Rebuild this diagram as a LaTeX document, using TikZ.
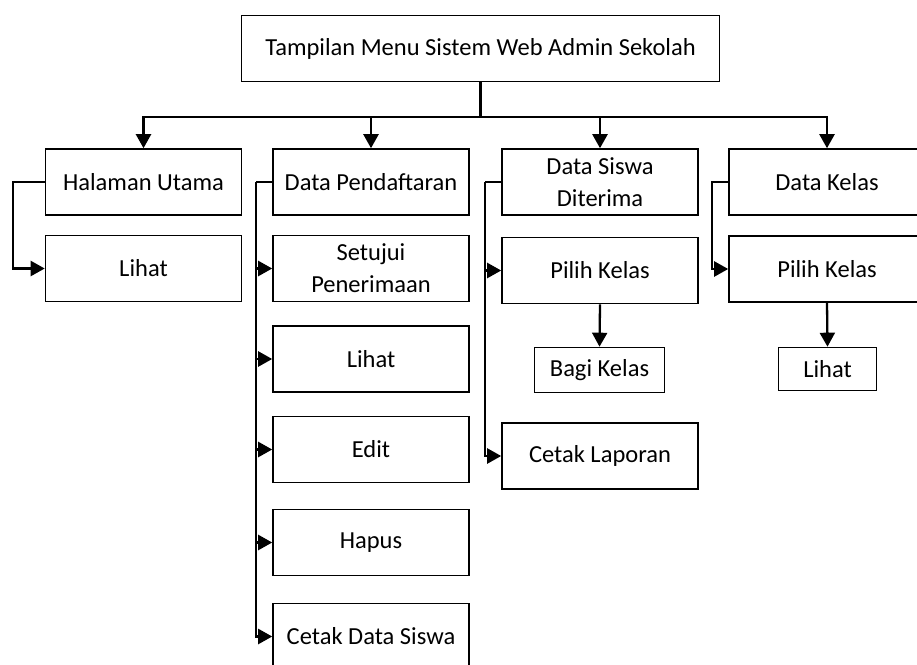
\documentclass[tikz,border=0pt]{standalone}
\usepackage{fontspec}
\setmainfont{Carlito}
\usetikzlibrary{arrows.meta}
\tikzset{
  box/.style={draw, line width=1.6pt, inner sep=0pt, minimum width=196pt, minimum height=66pt, align=center, font=\fontsize{24.5}{32}\selectfont},
  smallbox/.style={box, minimum height=45pt},
  arr/.style={line width=2.3pt, -{Triangle[length=14pt,width=15pt]}}
}
\begin{document}
\begin{tikzpicture}[x=1pt,y=-1pt]
  \useasboundingbox (0,0) rectangle (917,664);
  % puncak
  \node[box, minimum width=478pt] (top) at (480.5,48.5) {Tampilan Menu Sistem Web Admin Sekolah};
  % menu utama
  \node[box] (hu)  at (143.5,182) {Halaman Utama};
  \node[box] (dp)  at (371,182) {Data Pendaftaran};
  \node[box] (dsd) at (600,182) {Data Siswa\\Diterima};
  \node[box] (dk)  at (827,182) {Data Kelas};
  % sub menu
  \node[box] (lh1) at (143.5,268.5) {Lihat};
  \node[box] (sp)  at (371,268.5) {Setujui\\Penerimaan};
  \node[box] (lh2) at (371,359) {Lihat};
  \node[box] (ed)  at (371,449.5) {Edit};
  \node[box] (hp)  at (371,542.5) {Hapus};
  \node[box] (cds) at (371,636.5) {Cetak Data Siswa};
  \node[box] (pk1) at (600,270.5) {Pilih Kelas};
  \node[smallbox, minimum width=130pt] (bk) at (599.5,370) {Bagi Kelas};
  \node[box] (cl)  at (600,456) {Cetak Laporan};
  \node[box] (pk2) at (827,269) {Pilih Kelas};
  \node[smallbox, minimum width=98pt, minimum height=43pt] (lh3) at (827.5,369) {Lihat};
  % garis
  \draw[line width=2.3pt] (top.south) -- ++(0,35) coordinate (bus);
  \foreach \n in {hu,dp,dsd,dk}
    \draw[arr] (bus) -| (\n.north);
  \draw[arr] (hu.west) -- ++(-32,0) |- (lh1.west);
  \draw[line width=2.3pt] (dp.west) -- ++(-16,0) coordinate (c2);
  \foreach \n in {sp,lh2,ed,hp,cds}
    \draw[arr] (c2) |- (\n.west);
  \draw[line width=2.3pt] (dsd.west) -- ++(-16,0) coordinate (c3);
  \foreach \n in {pk1,cl}
    \draw[arr] (c3) |- (\n.west);
  \draw[arr] (pk1.south) -- (bk.north);
  \draw[arr] (dk.west) -- ++(-16,0) |- (pk2.west);
  \draw[arr] (pk2.south) -- (lh3.north);
\end{tikzpicture}
\end{document}
